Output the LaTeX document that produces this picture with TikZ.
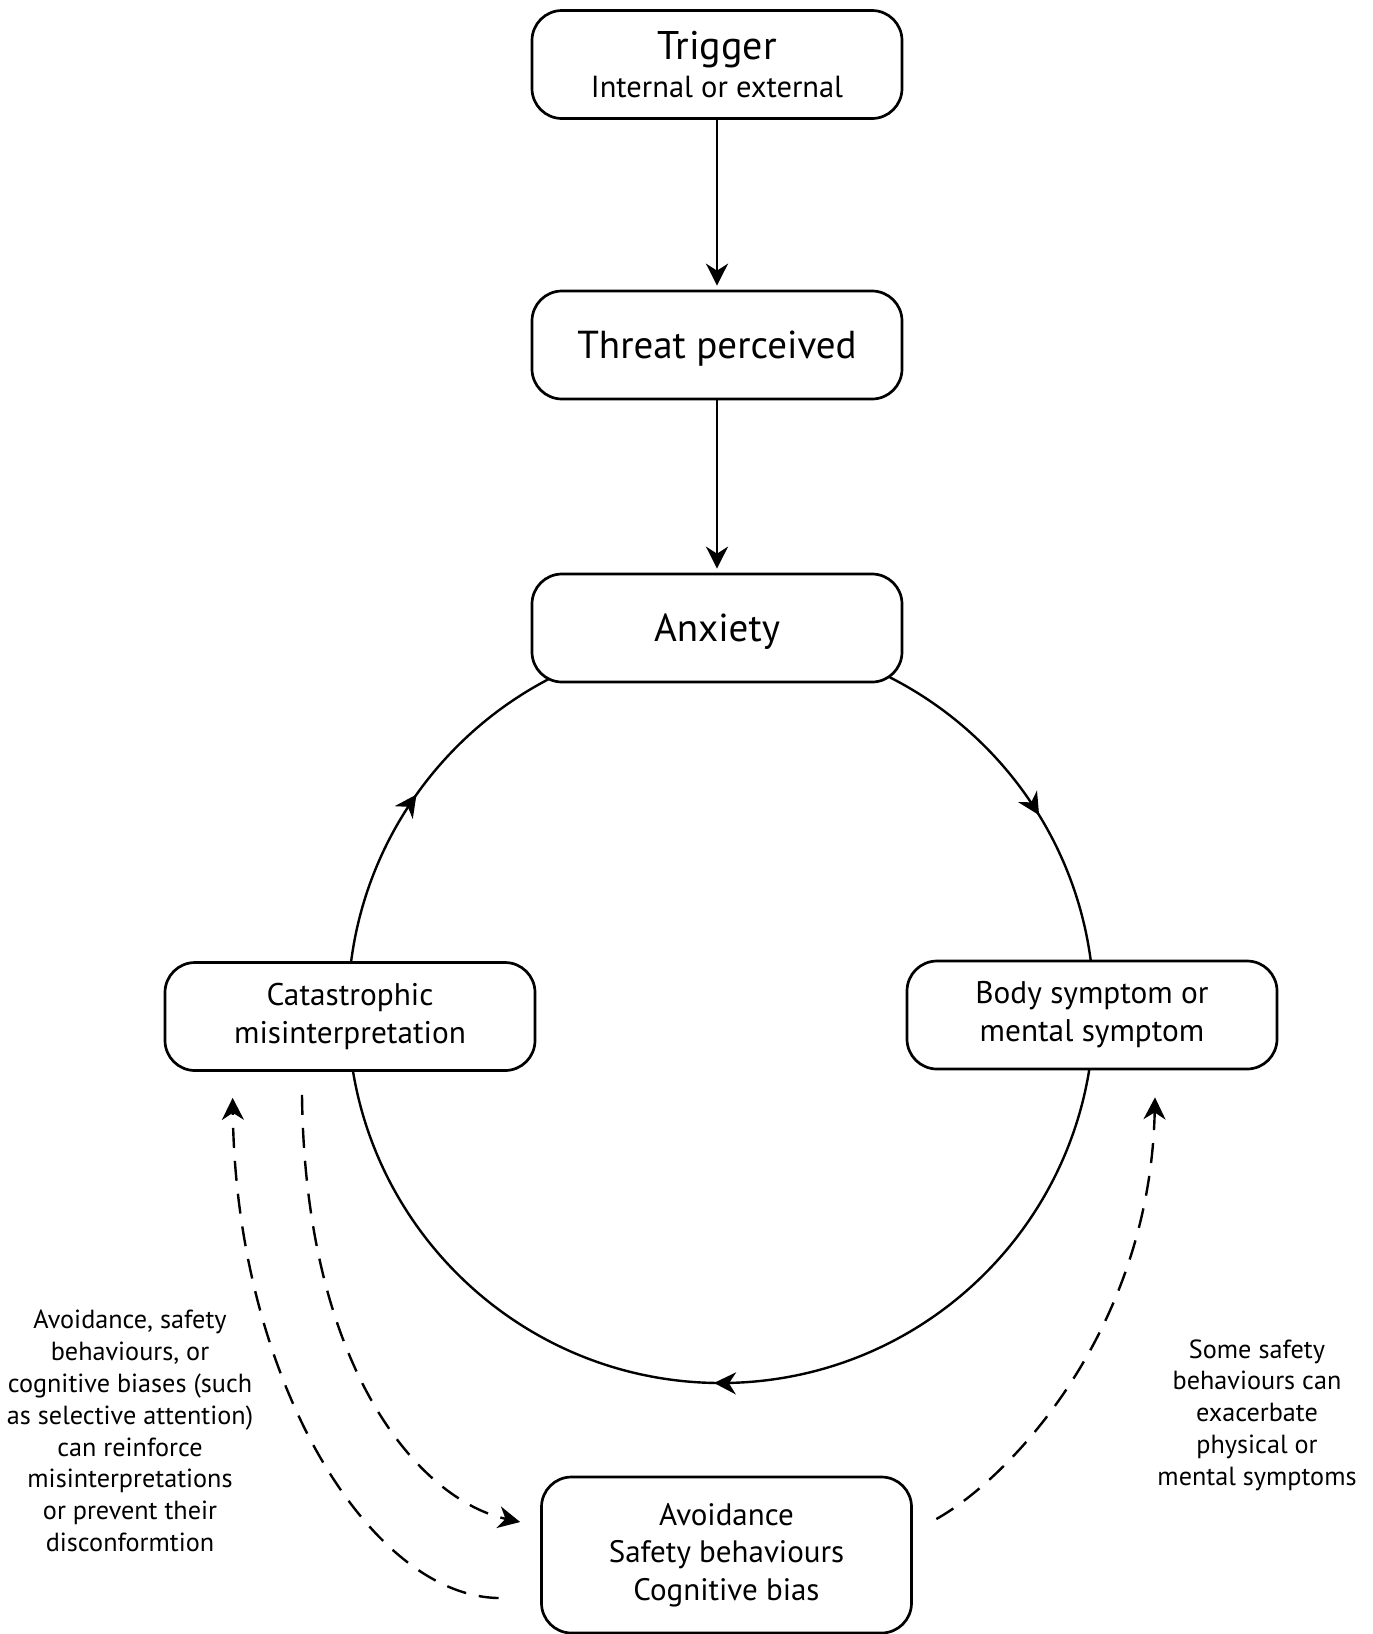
\documentclass[tikz,border=0pt]{standalone}
\usepackage{fontspec}
\setmainfont{PT Sans}
\usetikzlibrary{arrows.meta,decorations.markings,calc}
\pgfdeclarelayer{background}
\pgfsetlayers{background,main}
\begin{document}
\begin{tikzpicture}[x=1pt,y=1pt,
  box/.style={draw, line width=2.7pt, rounded corners=30pt, fill=white,
    minimum width=370pt, minimum height=108pt, align=center, inner sep=0pt},
  tip/.tip={Stealth[length=22pt,width=22pt,inset=7pt]},
  link/.style={line width=2.4pt, -tip},
  dashlink/.style={link, dash pattern=on 20pt off 13pt},
  big/.style={font=\fontsize{39}{48}\selectfont, text depth=0pt},
  mid/.style={font=\fontsize{31.3}{38}\selectfont},
  note/.style={font=\fontsize{26.2}{31.8}\selectfont, align=center},
]
\useasboundingbox (0,0) rectangle (1373,-1634);

% main chain
\node[box, font=\fontsize{30.5}{38}\selectfont] (trig) at (717,-64.5)
  {{\fontsize{40}{40}\selectfont Trigger}\\Internal or external};
\node[box, big] (threat) at (717,-345) {Threat perceived};
\node[box, big] (anx) at (717,-628) {Anxiety};

% the vicious cycle
\node[box, mid] (cat) at (350,-1016.5) {Catastrophic\\misinterpretation};
\node[box, mid] (body) at (1092,-1015) {Body symptom or\\mental symptom};
\node[box, mid, minimum height=156pt, font=\fontsize{31}{37.5}\selectfont] (cope) at (726.5,-1555)
  {Avoidance\\Safety behaviours\\Cognitive bias};

\draw[link, shorten >=4pt] (trig) -- (threat);
\draw[link, shorten >=4pt] (threat) -- (anx);

\coordinate (ring) at (721,-1010);
\begin{pgfonlayer}{background}
\fill[white] (0,0) rectangle (1373,-1634);
\draw[line width=2.4pt, postaction={decorate}, decoration={markings,
    mark=at position 0.1625 with {\arrow{tip}},
    mark=at position 0.503 with {\arrow{tip}},
    mark=at position 0.848 with {\arrow{tip}}}]
  ($(ring)+(90:373)$) arc[start angle=90, end angle=-270, radius=373];
\end{pgfonlayer}

% maintaining loops
\draw[dashlink] ([shift={(-48,-23)}]cat.south)
  .. controls (305,-1370) and (420,-1500) .. ([shift={(-20,33)}]cope.west);
\draw[dashlink] ([shift={(-41.5,-43)}]cope.west)
  .. controls (370,-1596) and (236,-1380) .. ([shift={(69,-26)}]cat.south west);
\draw[dashlink] ([shift={(23.5,36)}]cope.east)
  .. controls (1010,-1478) and (1150,-1330) .. ([shift={(63,-27)}]body.south);

\node[note] (leftnote) at (130,-1431) {Avoidance, safety\\behaviours, or\\cognitive biases (such\\as selective attention)\\can reinforce\\misinterpretations\\or prevent their\\disconformtion};
\node[note] (rightnote) at (1257,-1415) {Some safety\\behaviours can\\exacerbate\\physical or\\mental symptoms};
\end{tikzpicture}
\end{document}
